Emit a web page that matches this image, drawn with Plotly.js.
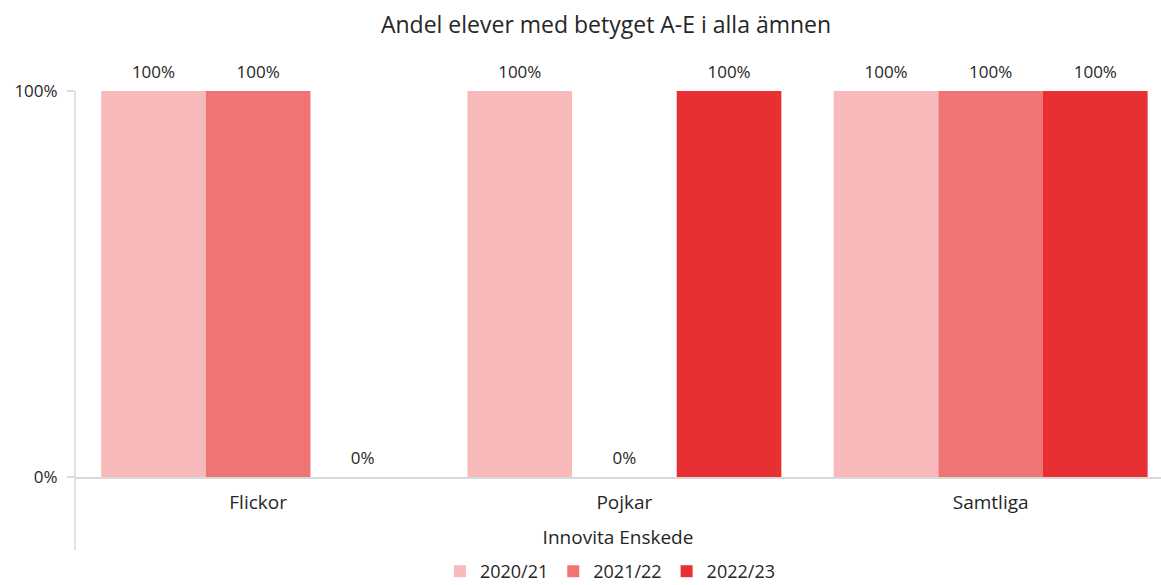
<!DOCTYPE html>
<html><head><meta charset="utf-8">
<script src="https://cdn.plot.ly/plotly-3.0.1.min.js"></script>
<style>html,body{margin:0;padding:0;background:#fff}#chart{width:1161px;height:585px}</style>
</head><body><div id="chart"></div>
<script>
const categories = ["Flickor", "Pojkar", "Samtliga"];
const seriesNames = ["2020/21", "2021/22", "2022/23"];
const values2020 = [1, 1, 1];
const values2021 = [1, 0, 1];
const values2022 = [0, 1, 1];
const colors = ["#F7B9BA", "#EF7575", "#E83032"];
const allValues = [values2020, values2021, values2022];
const fontFam = "'Open Sans', Lato, sans-serif";

const traces = allValues.map((vals, i) => ({
  type: "bar",
  name: seriesNames[i],
  x: categories,
  y: vals,
  marker: {color: colors[i]},
  text: vals.map(v => Math.round(v * 100) + "%"),
  textposition: "outside",
  textfont: {size: 17, color: "#262626", family: fontFam},
  cliponaxis: false,
  hoverinfo: "none"
}));

const layout = {
  width: 1161, height: 585,
  margin: {l: 75, r: 0, t: 91, b: 108, autoexpand: false},
  paper_bgcolor: "#fff", plot_bgcolor: "#fff",
  font: {family: fontFam, color: "#262626"},
  title: {text: "Andel elever med betyget A-E i alla ämnen", x: 0.522, xanchor: "center", y: 0.957, yanchor: "middle",
    font: {size: 23, color: "#262626", family: fontFam}},
  barmode: "group", bargap: 0.143, bargroupgap: 0,
  xaxis: {
    range: [-0.5, 2.465], showline: true, linecolor: "#D9D9D9", linewidth: 1.5,
    ticks: "", tickfont: {size: 19, color: "#262626"}, ticklabelstandoff: 8,
    title: {text: "Innovita Enskede", font: {size: 19, color: "#262626"}, standoff: 16},
    automargin: false, fixedrange: true
  },
  yaxis: {
    range: [0, 1], tickvals: [0, 1], ticktext: ["0%", "100%"],
    showgrid: false, zeroline: false, showline: false,
    ticks: "outside", ticklen: 7, tickcolor: "#D9D9D9", tickwidth: 1.5,
    tickfont: {size: 17, color: "#262626"}, ticklabelstandoff: 6,
    automargin: false, fixedrange: true
  },
  shapes: [{type: "line", xref: "paper", yref: "paper", x0: 0, x1: 0, y0: -0.19, y1: 1,
    line: {color: "#D9D9D9", width: 1.5}}],
  legend: {orientation: "h", x: 0.493, xanchor: "center", y: -0.197, yanchor: "top",
    font: {size: 18, color: "#262626"}, itemwidth: 30, traceorder: "normal"},
  showlegend: true
};
Plotly.newPlot("chart", traces, layout, {displayModeBar: false, staticPlot: true}).then(() => {
  document.querySelectorAll(".bartext").forEach(t => {
    const tr = t.getAttribute("transform") || "";
    t.setAttribute("transform", tr + " translate(0,-5)");
  });
});
</script></body></html>
